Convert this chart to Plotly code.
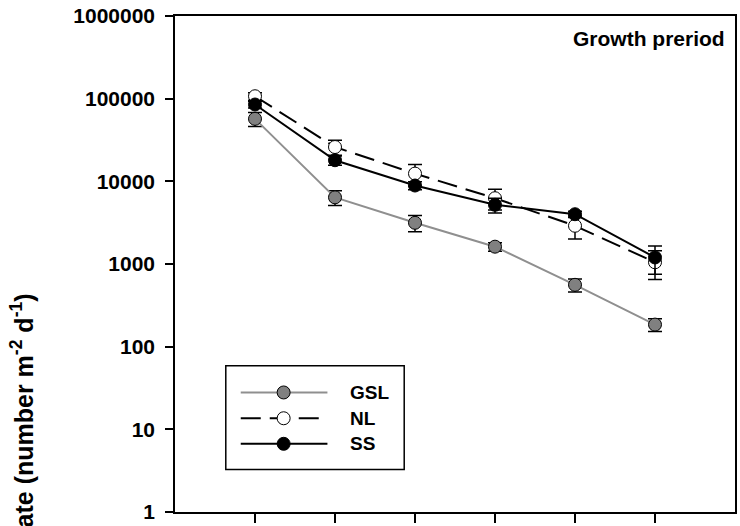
import plotly.graph_objects as go

# ---- data ----
sample_idx = [1, 2, 3, 4, 5, 6]
series_names = ["GSL", "NL", "SS"]
gsl_vals = [57000, 6400, 3150, 1620, 560, 185]
gsl_err = [11000, 1300, 700, 190, 100, 32]
nl_vals = [107000, 26000, 12400, 6250, 2900, 1050]
nl_err = [11000, 5300, 3600, 1750, 900, 400]
ss_vals = [85000, 18000, 8900, 5200, 4000, 1200]
ss_err = [8000, 2300, 1000, 1050, 350, 450]
y_tickvals = [1, 10, 100, 1000, 10000, 100000, 1000000]
y_ticktext = ["1", "10", "100", "1000", "10000", "100000", "1000000"]
panel_label = "Growth preriod"
y_title = "Settlement rate (number m<sup>-2</sup> d<sup>-1</sup>)"

FONT = "Liberation Sans, Arial, Helvetica, sans-serif"
DASH = "20px,9px"

styles = {
    "GSL": dict(line=dict(color="#8f8f8f", width=2),
                marker=dict(color="#808080", size=13, line=dict(color="#000000", width=1))),
    "NL": dict(line=dict(color="#000000", width=2, dash=DASH),
               marker=dict(color="#ffffff", size=13, line=dict(color="#000000", width=1))),
    "SS": dict(line=dict(color="#000000", width=2),
               marker=dict(color="#000000", size=13, line=dict(color="#000000", width=1))),
}
values = {"GSL": (gsl_vals, gsl_err), "NL": (nl_vals, nl_err), "SS": (ss_vals, ss_err)}

fig = go.Figure()
for name in series_names:
    v, e = values[name]
    fig.add_trace(go.Scatter(
        x=sample_idx, y=v, name=name, mode="lines+markers",
        line=styles[name]["line"], marker=styles[name]["marker"],
        error_y=dict(type="data", array=e, visible=True, color="#000000",
                     thickness=1.5, width=7),
        showlegend=False,
    ))

# ---- custom legend (box with long line samples) ----
lx0, lx1 = 0.0907, 0.4093
ly0, ly1 = 0.0857, 0.2948
fig.add_shape(type="rect", xref="paper", yref="paper", x0=lx0, x1=lx1, y0=ly0, y1=ly1,
              line=dict(color="#000000", width=1.5), fillcolor="rgba(0,0,0,0)")
entry_y = [0.241, 0.189, 0.1375]
for name, ey in zip(series_names, entry_y):
    st = styles[name]
    fig.add_shape(type="line", xref="paper", yref="paper", x0=0.1174, x1=0.2722, y0=ey, y1=ey,
                  line=dict(color=st["line"]["color"], width=st["line"]["width"],
                            dash=st["line"].get("dash", "solid")))
    fig.add_shape(type="circle", xref="paper", yref="paper", xsizemode="pixel", ysizemode="pixel",
                  xanchor=0.194, yanchor=ey, x0=-6.5, x1=6.5, y0=-6.5, y1=6.5,
                  line=dict(color="#000000", width=1), fillcolor=st["marker"]["color"])
    fig.add_annotation(x=0.3096, y=ey, xref="paper", yref="paper", text=name, showarrow=False,
                       xanchor="left", yanchor="middle",
                       font=dict(family=FONT, size=19, color="#000000", weight="bold"))

fig.add_annotation(x=0.985, y=0.955, xref="paper", yref="paper", text=panel_label, showarrow=False,
                   xanchor="right", yanchor="middle",
                   font=dict(family=FONT, size=21, color="#000000", weight="bold"))

fig.add_annotation(x=-0.273, y=0.444, xref="paper", yref="paper", text=y_title, showarrow=False,
                   textangle=-90, xanchor="center", yanchor="top",
                   font=dict(family=FONT, size=25, color="#000000", weight="bold"))

fig.update_xaxes(range=[0, 7], tickvals=sample_idx, showticklabels=False, ticks="outside",
                 ticklen=9, tickwidth=1.5, tickcolor="#000000", showline=True, linecolor="#000000",
                 linewidth=1.5, mirror=True, showgrid=False, zeroline=False)
fig.update_yaxes(type="log", range=[0, 6], tickvals=y_tickvals, ticktext=y_ticktext,
                 ticks="outside", ticklen=8, tickwidth=1.5, tickcolor="#000000",
                 showline=True, linecolor="#000000", linewidth=1.5, mirror=True,
                 showgrid=False, zeroline=False, ticklabelstandoff=6,
                 tickfont=dict(family=FONT, size=21, color="#000000", weight="bold"))

fig.update_layout(width=740, height=526, margin=dict(l=175, r=3, t=16, b=8),
                  paper_bgcolor="#ffffff", plot_bgcolor="#ffffff", showlegend=False)

fig.write_html("out.html")
